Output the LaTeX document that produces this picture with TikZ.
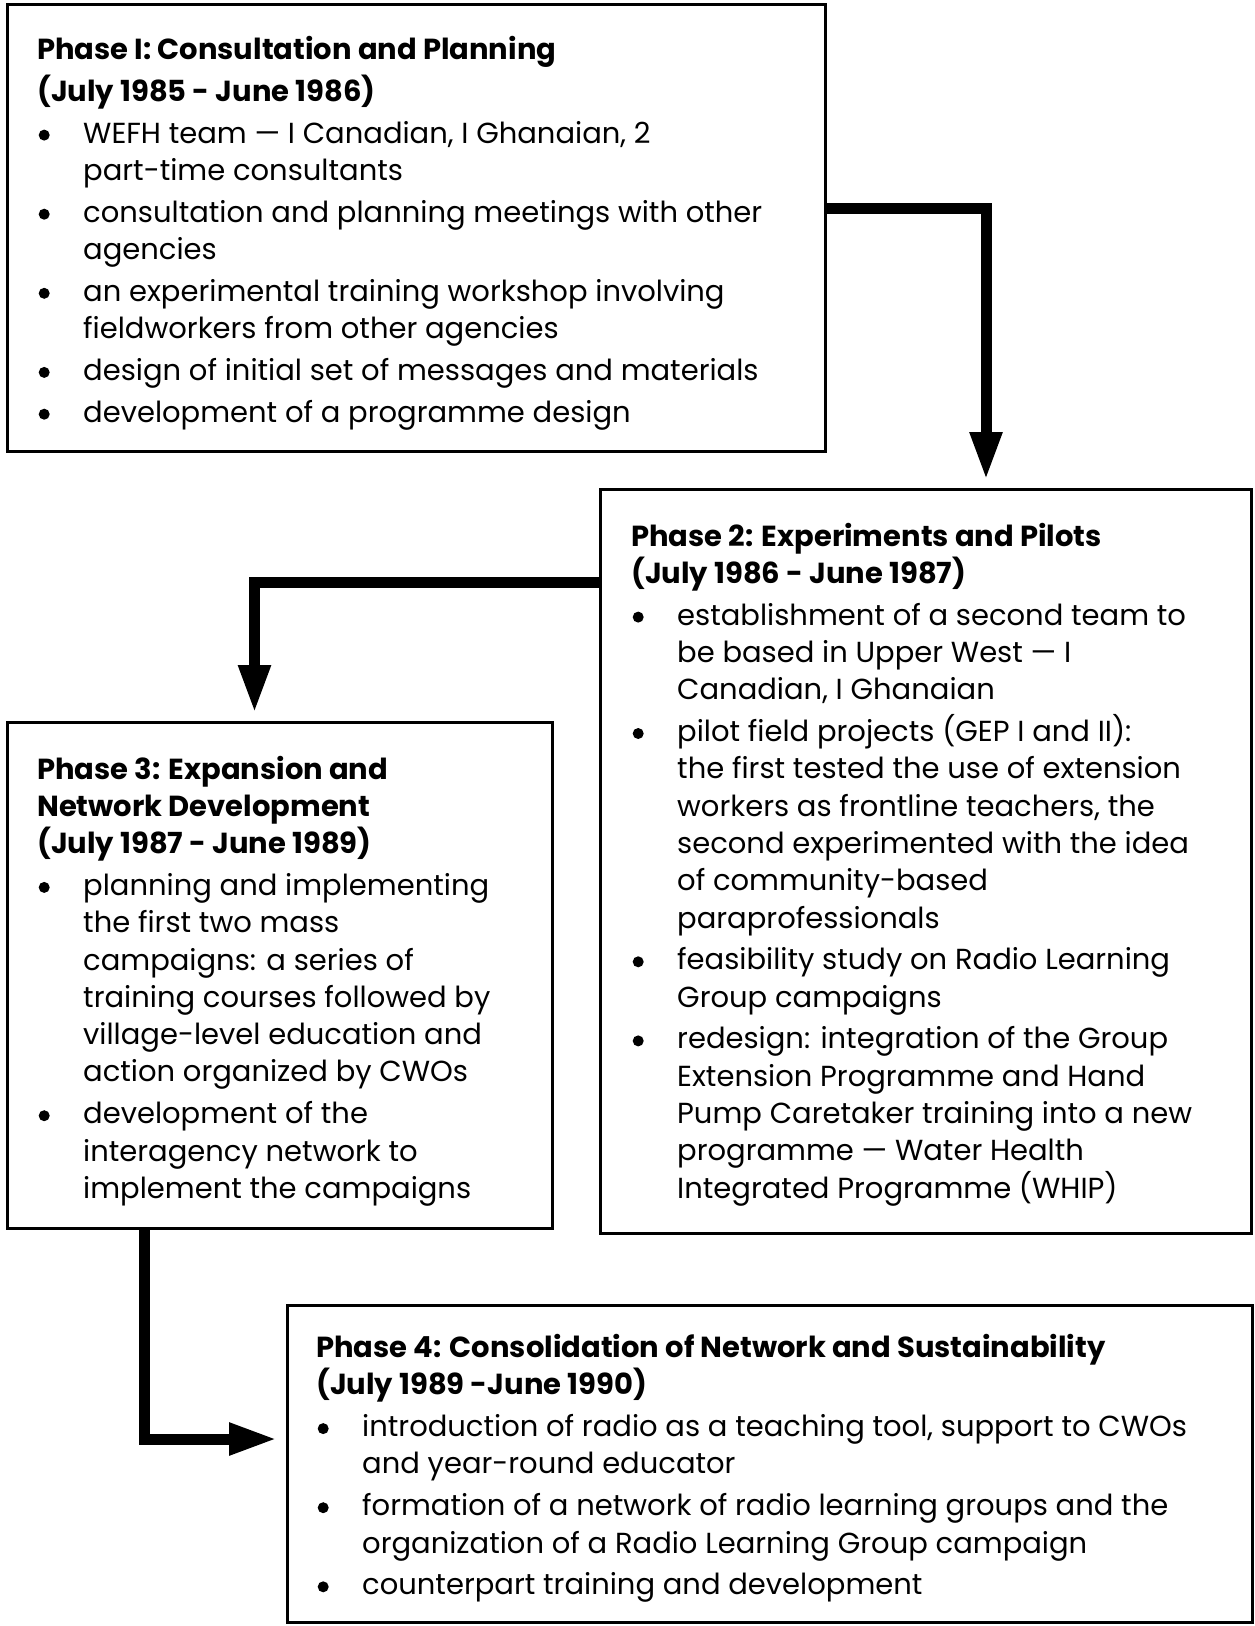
\documentclass[tikz,border=0pt]{standalone}
\usepackage{fontspec}
\setmainfont{Poppins}
\usetikzlibrary{arrows.meta}
\newcommand{\bul}{\makebox[46pt][l]{\hspace{1.5pt}\tikz[baseline=0pt]\fill (5.5pt,8pt) circle (5.5pt);}}
\newcommand{\cnt}{\hspace*{46pt}}
\newcommand{\gp}{\\[4.5pt]}
\tikzset{
  phasebox/.style={draw, line width=3pt, inner sep=0pt, outer sep=0pt, anchor=north west, rectangle},
  phasetext/.style={anchor=base west, inner sep=0pt, font=\fontsize{29}{37.3}\selectfont},
  flowarrow/.style={line width=11pt, -{Triangle[length=48pt,width=30pt]}, line join=miter},
}
\begin{document}
\begin{tikzpicture}[x=1pt,y=-1pt]
\useasboundingbox (0,0) rectangle (1254,1626);
% boxes
\node[phasebox, minimum width=818pt, minimum height=447pt] (b1) at (7,4) {};
\node[phasebox, minimum width=651pt, minimum height=744pt] (b2) at (600,489) {};
\node[phasebox, minimum width=545pt, minimum height=506pt] (b3) at (7,722) {};
\node[phasebox, minimum width=965pt, minimum height=317pt] (b4) at (287,1305) {};
% texts
\node[phasetext] (t1) at (37,59) {\parbox[t]{900pt}{\raggedright
\textbf{Phase I: Consultation and Planning}\\[5pt]
\textbf{(July 1985 - June 1986)}\gp
\bul WEFH team — I Canadian, I Ghanaian, 2\\
\cnt part-time consultants\gp
\bul consultation and planning meetings with other\\
\cnt agencies\gp
\bul an experimental training workshop involving\\
\cnt fieldworkers from other agencies\gp
\bul design of initial set of messages and materials\gp
\bul development of a programme design}};
\node[phasetext] (t2) at (631,546) {\parbox[t]{700pt}{\raggedright
\textbf{Phase 2: Experiments and Pilots}\\
\textbf{(July 1986 - June 1987)}\gp
\bul establishment of a second team to\\
\cnt be based in Upper West — I\\
\cnt Canadian, I Ghanaian\gp
\bul pilot field projects (GEP I and II):\\
\cnt the first tested the use of extension\\
\cnt workers as frontline teachers, the\\
\cnt second experimented with the idea\\
\cnt of community-based\\
\cnt paraprofessionals\gp
\bul feasibility study on Radio Learning\\
\cnt Group campaigns\gp
\bul redesign: integration of the Group\\
\cnt Extension Programme and Hand\\
\cnt Pump Caretaker training into a new\\
\cnt programme — Water Health\\
\cnt Integrated Programme (WHIP)}};
\node[phasetext] (t3) at (37,779) {\parbox[t]{600pt}{\raggedright
\textbf{Phase 3: Expansion and}\\
\textbf{Network Development}\\
\textbf{(July 1987 - June 1989)}\gp
\bul planning and implementing\\
\cnt the first two mass\\
\cnt campaigns: a series of\\
\cnt training courses followed by\\
\cnt village-level education and\\
\cnt action organized by CWOs\gp
\bul development of the\\
\cnt interagency network to\\
\cnt implement the campaigns}};
\node[phasetext] (t4) at (316,1357.5) {\parbox[t]{1000pt}{\raggedright
\textbf{Phase 4: Consolidation of Network and Sustainability}\\
\textbf{(July 1989 -June 1990)}\gp
\bul introduction of radio as a teaching tool, support to CWOs\\
\cnt and year-round educator\gp
\bul formation of a network of radio learning groups and the\\
\cnt organization of a Radio Learning Group campaign\gp
\bul counterpart training and development}};
% arrows
\draw[flowarrow] ([yshift=-204pt]b1.north east) -| ([xshift=386pt,yshift=9pt]b2.north west);
\draw[flowarrow] ([yshift=-93pt]b2.north west) -| ([xshift=247.5pt,yshift=9pt]b3.north west);
\draw[flowarrow] ([xshift=137pt]b3.south west) |- ([xshift=-10pt,yshift=24.5pt]b4.west);
\end{tikzpicture}
\end{document}
